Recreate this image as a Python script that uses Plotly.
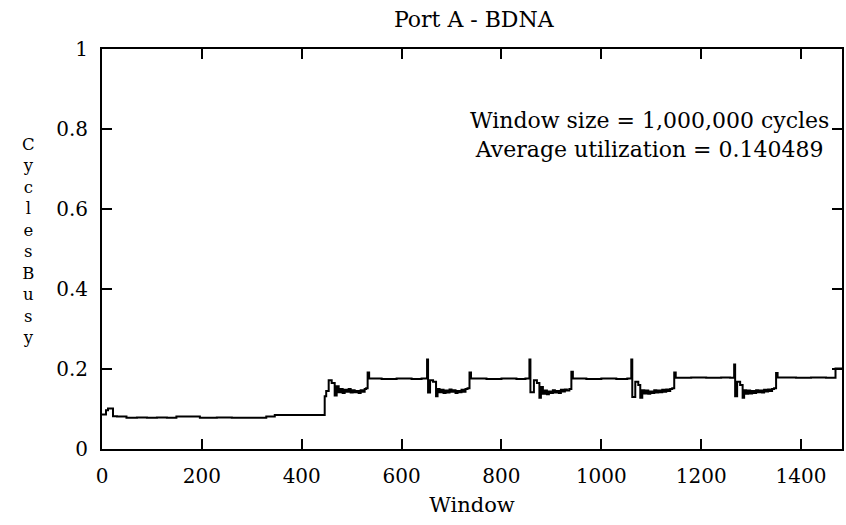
import plotly.graph_objects as go

# Window index and fraction of cycles busy
windows = [
    0, 8, 12, 22, 30, 49, 70, 90, 110, 130, 149, 196, 230, 260, 300, 329, 346,
    446, 449, 454, 460, 466, 470, 474, 478, 482, 486, 490, 494, 498, 502, 506, 510, 514, 518, 522, 526, 529,
    532, 535, 560, 590, 620, 640,
    651, 653, 657, 663, 669, 672, 676, 680, 684, 688, 692, 696, 700, 704, 708, 712, 716, 720, 724, 728, 732,
    736, 739, 770, 800, 830, 848,
    856, 858, 865, 871, 876, 879, 883, 887, 891, 895, 899, 903, 907, 911, 915, 919, 923, 927, 931, 936,
    940, 943, 970, 1000, 1030, 1052,
    1060, 1062, 1068, 1074, 1078, 1082, 1086, 1090, 1094, 1098, 1102, 1106, 1110, 1114, 1118, 1122, 1126, 1130, 1134, 1138, 1142,
    1146, 1149, 1180, 1210, 1240, 1258,
    1266, 1268, 1272, 1278, 1283, 1286, 1290, 1294, 1298, 1302, 1306, 1310, 1314, 1318, 1322, 1326, 1330, 1334, 1338, 1342, 1346,
    1350, 1353, 1390, 1420, 1450,
    1469, 1482,
]
busy = [
    0.086, 0.097, 0.101, 0.082, 0.081, 0.078, 0.079, 0.078, 0.079, 0.078, 0.081, 0.078, 0.079, 0.078, 0.078, 0.081, 0.085,
    0.132, 0.145, 0.172, 0.165, 0.134, 0.157, 0.142, 0.150, 0.140, 0.148, 0.143, 0.150, 0.141, 0.147, 0.142, 0.145, 0.140, 0.147, 0.143, 0.150, 0.152,
    0.191, 0.176, 0.175, 0.176, 0.175, 0.176,
    0.224, 0.141, 0.172, 0.168, 0.132, 0.150, 0.142, 0.148, 0.140, 0.146, 0.141, 0.149, 0.143, 0.147, 0.140, 0.145, 0.142, 0.148, 0.143, 0.150, 0.152,
    0.191, 0.176, 0.175, 0.176, 0.175, 0.176,
    0.224, 0.142, 0.172, 0.165, 0.128, 0.155, 0.138, 0.146, 0.137, 0.144, 0.140, 0.147, 0.141, 0.145, 0.140, 0.148, 0.144, 0.149, 0.146, 0.150,
    0.193, 0.176, 0.175, 0.176, 0.175, 0.176,
    0.224, 0.130, 0.168, 0.160, 0.128, 0.147, 0.139, 0.146, 0.138, 0.144, 0.140, 0.147, 0.141, 0.146, 0.142, 0.148, 0.143, 0.149, 0.145, 0.150, 0.152,
    0.191, 0.178, 0.179, 0.178, 0.179, 0.178,
    0.211, 0.132, 0.168, 0.160, 0.128, 0.147, 0.138, 0.146, 0.139, 0.145, 0.140, 0.147, 0.142, 0.146, 0.141, 0.148, 0.144, 0.149, 0.145, 0.150, 0.152,
    0.190, 0.179, 0.178, 0.179, 0.178,
    0.201, 0.201,
]

x_ticks = [0, 200, 400, 600, 800, 1000, 1200, 1400]
y_ticks = [0, 0.2, 0.4, 0.6, 0.8, 1]
y_tick_text = ["0", "0.2", "0.4", "0.6", "0.8", "1"]

title_text = "Port A - BDNA"
x_title = "Window"
y_title_letters = ["C", "y", "c", "l", "e", "s", "B", "u", "s", "y"]
note_lines = "Window size = 1,000,000 cycles<br>Average utilization = 0.140489"

FONT = "DejaVu Serif"
H = 525

fig = go.Figure()
fig.add_trace(go.Scatter(
    x=windows, y=busy, mode="lines", line=dict(color="black", width=2, shape="hv"),
    showlegend=False, hoverinfo="skip",
))

axis_common = dict(
    showline=True, linecolor="black", linewidth=2, mirror="ticks",
    ticks="inside", ticklen=10, tickwidth=2, tickcolor="black",
    showgrid=False, zeroline=False,
    tickfont=dict(family=FONT, size=20, color="black"),
)

fig.update_xaxes(range=[0, 1482], tickvals=x_ticks, ticklabelstandoff=8,
                 title=dict(text=x_title, font=dict(family=FONT, size=21, color="black"), standoff=10),
                 **axis_common)
fig.update_yaxes(range=[0, 1], tickvals=y_ticks, ticktext=y_tick_text, ticklabelstandoff=8,
                 **axis_common)

annotations = [
    dict(
        text="<br>".join(y_title_letters), xref="paper", yref="paper",
        x=-0.1, y=(H - 76 - 241) / (H - 49 - 76),
        xanchor="center", yanchor="middle", showarrow=False, align="center",
        font=dict(family=FONT, size=16.5, color="black"),
    ),
    dict(
        text=note_lines, xref="paper", yref="paper", x=0.74, y=0.785,
        xanchor="center", yanchor="middle", showarrow=False, align="center",
        font=dict(family=FONT, size=22, color="black"),
    ),
]

fig.update_layout(
    width=846, height=H,
    margin=dict(l=102, r=2, t=49, b=76),
    paper_bgcolor="white", plot_bgcolor="white",
    title=dict(text=title_text, x=0.56, xanchor="center", y=0.963, yanchor="middle",
               font=dict(family=FONT, size=22, color="black")),
    annotations=annotations,
)

fig.write_html("out.html")
